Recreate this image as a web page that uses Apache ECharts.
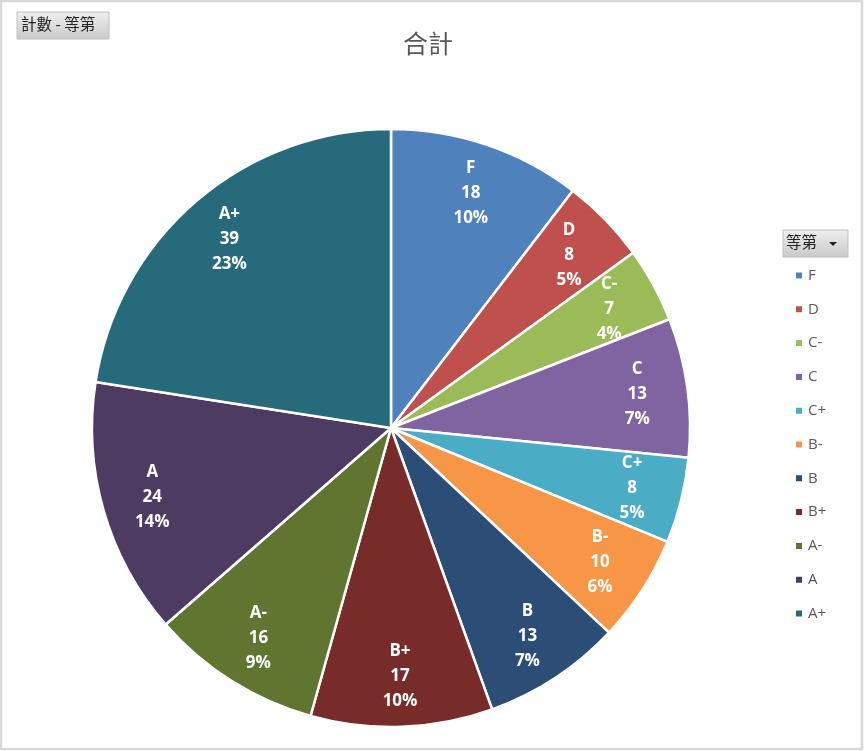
<!DOCTYPE html>
<html>
<head>
<meta charset="utf-8">
<script src="https://cdn.jsdelivr.net/npm/echarts@6/dist/echarts.min.js"></script>
<style>
html, body { margin: 0; padding: 0; background: #fff; }
#chart { width: 864px; height: 751px; }
</style>
</head>
<body>
<div id="chart"></div>
<script>
var grades = ['F', 'D', 'C-', 'C', 'C+', 'B-', 'B', 'B+', 'A-', 'A', 'A+'];
var counts = [18, 8, 7, 13, 8, 10, 13, 17, 16, 24, 39];
var colors = ['#4F81BD', '#C0504D', '#9BBB59', '#8064A2', '#4BACC6', '#F79646',
              '#2C4D75', '#772C2A', '#5F7530', '#4D3B62', '#276A7C'];

var pieData = [];
for (var i = 0; i < grades.length; i++) {
    pieData.push({ name: grades[i], value: counts[i] });
}

var fontCJK = '"Noto Sans CJK TC", "Noto Sans", sans-serif';
var myChart = echarts.init(document.getElementById('chart'));
var option = {
    color: colors,
    animation: false,
    title: {
        text: '合計',
        left: 398,
        top: 26,
        textStyle: { color: '#595959', fontSize: 25, fontWeight: 'normal', fontFamily: fontCJK }
    },
    legend: {
        data: grades,
        orient: 'vertical',
        left: 789,
        top: 263,
        itemWidth: 8,
        itemHeight: 8,
        itemGap: 18.8,
        icon: 'rect',
        textStyle: { color: '#595959', fontSize: 15, fontFamily: '"Open Sans", sans-serif' },
        selectedMode: false
    },
    graphic: [
        {
            type: 'rect',
            shape: { x: 1, y: 1, width: 861, height: 748 },
            style: { fill: 'none', stroke: '#d9d9d9', lineWidth: 2.5 }
        },
        {
            type: 'rect',
            shape: { x: 17, y: 12, width: 92, height: 27 },
            style: {
                fill: new echarts.graphic.LinearGradient(0, 0, 0, 1, [
                    { offset: 0, color: '#efefef' }, { offset: 1, color: '#c9c9c9' }
                ]),
                stroke: '#c0c0c0', lineWidth: 1
            }
        },
        {
            type: 'text',
            left: 21, top: 16,
            style: { text: '計數 - 等第', fill: '#222', fontSize: 15.5, fontFamily: fontCJK }
        },
        {
            type: 'rect',
            shape: { x: 783, y: 230, width: 65, height: 27 },
            style: {
                fill: new echarts.graphic.LinearGradient(0, 0, 0, 1, [
                    { offset: 0, color: '#efefef' }, { offset: 1, color: '#c9c9c9' }
                ]),
                stroke: '#c0c0c0', lineWidth: 1
            }
        },
        {
            type: 'text',
            left: 786, top: 234,
            style: { text: '等第', fill: '#222', fontSize: 15.5, fontFamily: fontCJK }
        },
        {
            type: 'polygon',
            shape: { points: [[829, 242], [837, 242], [833, 246]] },
            style: { fill: '#222' }
        }
    ],
    series: [
        {
            type: 'pie',
            center: [391, 428],
            radius: [0, 299],
            startAngle: 90,
            clockwise: true,
            data: pieData,
            label: { show: false },
            labelLine: { show: false },
            itemStyle: { borderColor: '#fff', borderWidth: 2.5 },
            emphasis: { disabled: true }
        },
        {
            // transparent ring only used to place the labels near the rim
            type: 'pie',
            center: [391, 428],
            radius: [192, 299],
            startAngle: 90,
            clockwise: true,
            silent: true,
            percentPrecision: 0,
            data: pieData,
            itemStyle: { color: 'rgba(0,0,0,0)', borderWidth: 0 },
            label: {
                show: true,
                position: 'inside',
                formatter: '{b}\n{c}\n{d}%',
                color: '#fff',
                fontSize: 17,
                fontWeight: 'bold',
                lineHeight: 25,
                fontFamily: '"Open Sans", "DejaVu Sans", sans-serif'
            },
            labelLine: { show: false },
            emphasis: { disabled: true }
        }
    ]
};
myChart.setOption(option);
</script>
</body>
</html>
